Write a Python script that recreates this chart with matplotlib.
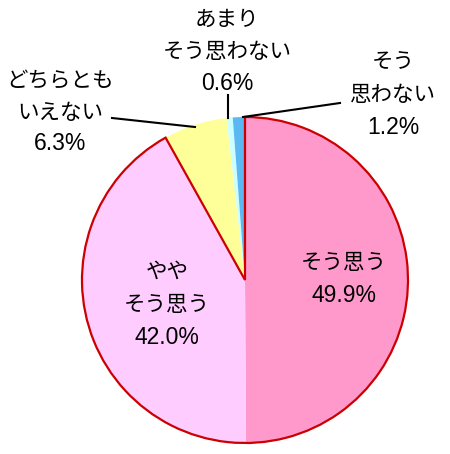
"""Pie chart of survey answers (そう思う ... そう思わない)."""

import matplotlib
matplotlib.use("Agg")
import matplotlib.pyplot as plt
from matplotlib.patches import Wedge

plt.rcParams["font.family"] = ["Noto Sans CJK JP", "DejaVu Sans"]

# Data, clockwise from 12 o'clock
categories = ["そう思う", "やや\nそう思う", "どちらとも\nいえない", "あまり\nそう思わない", "そう\n思わない"]
values = [49.9, 42.0, 6.3, 0.6, 1.2]
colors = ["#FF99CC", "#FFCCFF", "#FFFF99", "#CCFFFF", "#5CB8F2"]

W, H = 450, 454
fig = plt.figure(figsize=(W / 100, H / 100), dpi=100)
ax = fig.add_axes([0, 0, 1, 1])

cx, cy, r = 245, H - 280, 163

ax.pie(values, colors=colors, startangle=90, counterclock=False,
       center=(cx, cy), radius=r, frame=True,
       wedgeprops=dict(linewidth=0))
ax.set_xlim(0, W)
ax.set_ylim(0, H)
ax.set_aspect("equal")
ax.axis("off")

# red outline around the two "agree" slices
agree = (values[0] + values[1]) / sum(values) * 360
ax.add_patch(Wedge((cx, cy), r, 90 - agree, 90, fill=False,
                   edgecolor="#CC0000", linewidth=1.6, zorder=3))


def label(x, y, name, value, step=32):
    # one text per line so the line gap matches the original
    lines = name.split("\n")
    for i, line in enumerate(lines):
        ax.text(x, H - (y + i * step), line, ha="center", va="center",
                fontsize=15.5, color="black", zorder=4)
    ax.text(x, H - (y + len(lines) * step), f"{value:.1f}%", ha="center",
            va="center", fontsize=16.5, color="black", zorder=4,
            family=["Liberation Sans", "DejaVu Sans"])


def leader(x0, y0, x1, y1):
    ax.plot([x0, x1], [H - y0, H - y1], color="black", linewidth=1.5, zorder=4)


label(344, 263, categories[0], values[0])
label(167, 272, categories[1], values[1], step=33)
label(60, 82, categories[2], values[2], step=31)
label(227, 20, categories[3], values[3], step=31.5)
label(393, 63, categories[4], values[4])

leader(112, 118, 195, 127)
leader(228, 95, 228, 118)
leader(243, 117, 340, 103)

fig.savefig("out.png", dpi=100)
